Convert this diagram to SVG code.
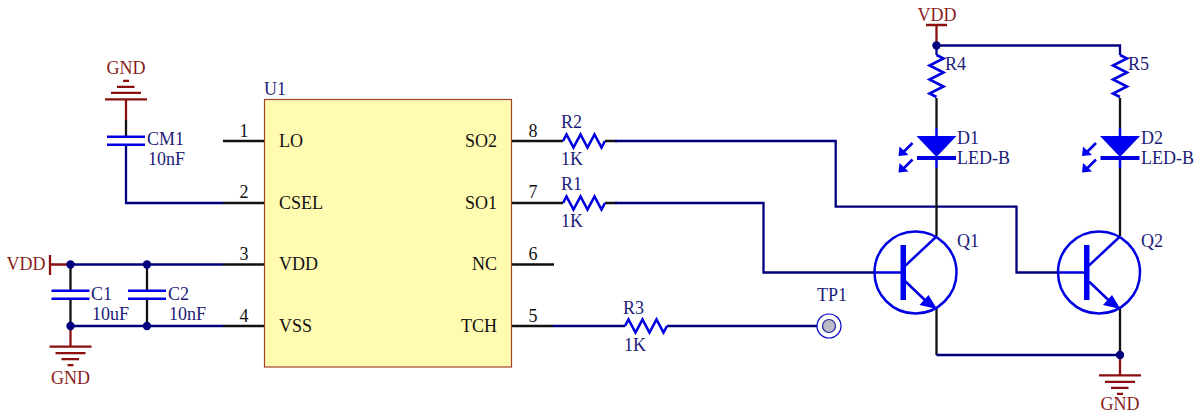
<svg xmlns="http://www.w3.org/2000/svg" width="1198" height="414" viewBox="0 0 1198 414">
<style>
text{font-family:"Liberation Serif","Times New Roman",serif;font-size:18px}
.pin{fill:#111}
.des{fill:#1c1c78}
.pwr{fill:#8a1c1c}
.w{fill:none;stroke:#00007e;stroke-width:2.300}
.k{fill:none;stroke:#111;stroke-width:2.300}
.b{fill:none;stroke:#0000e0;stroke-width:2.500}
.p{fill:none;stroke:#8a1010;stroke-width:2.300}
.j{fill:#00007e}
.f{fill:#0000f0}
</style>
<defs>
<g id="cap"><path class="b" d="M-19 0H19M-19 8H19"/></g>
<path id="rh" class="b" d="M0 0L3.500 -6.500L10.500 6.500L17.500 -6.500L24.500 6.500L31.500 -6.500L38.500 6.500L42 0" style="stroke-width:2.600"/>
<path id="rv" class="b" d="M0 0L7 3.500L-7 10.500L7 17.500L-7 24.500L7 31.500L-7 38.500L0 42" style="stroke-width:2.600"/>
<g id="gnd"><path class="p" d="M-21 0H21M-15 6.500H15M-9 12.500H8.500M-3 18.500H3"/></g>
<g id="led">
<path class="b" d="M0 -28V-20M0 0V12"/>
<path class="f" d="M-20 -20H20L0 1Z"/>
<path class="b" d="M-19.500 2H19.500" style="stroke-width:3.800"/>
<path class="b" d="M-24 -13L-34 -3M-24 3.500L-34 13.500" style="stroke-width:2.600"/>
<path class="f" d="M-38 0L-37 -9.500L-28 -1ZM-38 16.500L-37 7L-28 15.500Z"/>
</g>
<g id="npn">
<circle class="b" cx="0" cy="0" r="41"/>
<path class="b" d="M-41 0H-12M-10 -7L21 -36M-10 9L12 30"/>
<rect class="f" x="-15" y="-27.500" width="5.500" height="55"/>
<path class="f" d="M21.500 36.500L4 32.500L13 22.500Z"/>
</g>
</defs>
<g id="connectors">
<path class="p" d="M126 99V120"/>
<path class="k" d="M126 120V137"/>
<path class="w" d="M126 145V203H223"/>
<path class="k" d="M223 141H264M223 203H264M223 264.500H264M223 326H264"/>
<path class="p" d="M50 255V275M50 264.500H70.500"/>
<path class="w" d="M70.500 264.500H223M70.500 326H223"/>
<path class="k" d="M70.500 264.500V291M70.500 299V326M147 264.500V291M147 299V326"/>
<path class="p" d="M70.500 326V347"/>
<path class="k" d="M512 141H563M512 203H563M512 264.500H554M512 326H553"/>
<path class="k" d="M605 141H617M605 203H617"/>
<path class="w" d="M615 141H835.700V206.700H1016.500V272.500H1058M615 203H763.500V272.500H875"/>
<path class="w" d="M553 326H625M667 326H817"/>
<path class="p" d="M936.500 25V45.500M926 25H947"/>
<path class="w" d="M936.500 45.500H1120V55M936.500 45.500V55"/>
<path class="k" d="M936.500 98V128M936.500 168V236M1120 98V128M1120 168V236"/>
<path class="k" d="M936.500 308V355M1120 308V355"/>
<path class="w" d="M936.500 355H1120"/>
<path class="p" d="M1120 355V375"/>
<circle class="j" cx="70.500" cy="264.500" r="4.200"/>
<circle class="j" cx="147" cy="264.500" r="4.200"/>
<circle class="j" cx="70.500" cy="326" r="4.200"/>
<circle class="j" cx="147" cy="326" r="4.200"/>
<circle class="j" cx="936.500" cy="45.500" r="4.200"/>
<circle class="j" cx="1120" cy="355" r="4.200"/>
</g>
<g id="U1">
<rect x="264.500" y="99.500" width="247" height="267.500" fill="#fffbb0" stroke="#a8402c" stroke-width="1.200"/>
<text class="des" x="264" y="95">U1</text>
<text class="pin" x="279" y="147">LO</text>
<text class="pin" x="279" y="209">CSEL</text>
<text class="pin" x="279" y="270">VDD</text>
<text class="pin" x="279" y="332">VSS</text>
<text class="pin" x="497" y="147" text-anchor="end">SO2</text>
<text class="pin" x="497" y="209" text-anchor="end">SO1</text>
<text class="pin" x="497" y="270" text-anchor="end">NC</text>
<text class="pin" x="497" y="332" text-anchor="end">TCH</text>
<text class="pin" x="244" y="137" text-anchor="middle">1</text>
<text class="pin" x="244" y="198" text-anchor="middle">2</text>
<text class="pin" x="244" y="260" text-anchor="middle">3</text>
<text class="pin" x="244" y="322" text-anchor="middle">4</text>
<text class="pin" x="533" y="137" text-anchor="middle">8</text>
<text class="pin" x="533" y="198" text-anchor="middle">7</text>
<text class="pin" x="533" y="260" text-anchor="middle">6</text>
<text class="pin" x="533" y="322" text-anchor="middle">5</text>
</g>
<g id="GND1"><use href="#gnd" transform="translate(126 99.300) scale(1 -1)"/><text class="pwr" x="126" y="74" text-anchor="middle">GND</text></g>
<g id="CM1"><use href="#cap" x="126" y="136.700"/><text class="des" x="147" y="145">CM1</text><text class="des" x="148" y="165">10nF</text></g>
<g id="VDD1"><text class="pwr" x="45.500" y="270" text-anchor="end">VDD</text></g>
<g id="C1"><use href="#cap" x="70.500" y="290.700"/><text class="des" x="91" y="300">C1</text><text class="des" x="92" y="320">10uF</text></g>
<g id="C2"><use href="#cap" x="147" y="290.700"/><text class="des" x="168" y="300">C2</text><text class="des" x="169" y="320">10nF</text></g>
<g id="GND2"><use href="#gnd" x="70.500" y="346.700"/><text class="pwr" x="70.500" y="384" text-anchor="middle">GND</text></g>
<g id="R2"><use href="#rh" x="563" y="141"/><text class="des" x="561" y="128">R2</text><text class="des" x="561" y="165">1K</text></g>
<g id="R1"><use href="#rh" x="563" y="203"/><text class="des" x="561" y="190">R1</text><text class="des" x="561" y="227">1K</text></g>
<g id="R3"><use href="#rh" x="625" y="326"/><text class="des" x="623" y="314">R3</text><text class="des" x="624" y="351">1K</text></g>
<g id="TP1"><circle cx="829" cy="326" r="12" fill="#fff" stroke="#0000c8" stroke-width="1.200"/><circle cx="829" cy="326" r="6.500" fill="#bcbcc8" stroke="#2020a0" stroke-width="1.200"/><text class="des" x="817" y="301">TP1</text></g>
<g id="VDD2"><text class="pwr" x="937" y="21" text-anchor="middle">VDD</text></g>
<g id="R4"><use href="#rv" x="936.500" y="55"/><text class="des" x="945" y="70">R4</text></g>
<g id="R5"><use href="#rv" x="1120" y="55"/><text class="des" x="1128" y="70">R5</text></g>
<g id="D1"><use href="#led" x="936.500" y="156"/><text class="des" x="957" y="144">D1</text><text class="des" x="957" y="164">LED-B</text></g>
<g id="D2"><use href="#led" x="1120" y="156"/><text class="des" x="1141" y="144">D2</text><text class="des" x="1141" y="164">LED-B</text></g>
<g id="Q1"><use href="#npn" x="915.500" y="272.500"/><text class="des" x="957" y="247">Q1</text></g>
<g id="Q2"><use href="#npn" x="1099" y="272.500"/><text class="des" x="1141" y="247">Q2</text></g>
<g id="GND3"><use href="#gnd" x="1120" y="375.300"/><text class="pwr" x="1120" y="410" text-anchor="middle">GND</text></g>
</svg>
